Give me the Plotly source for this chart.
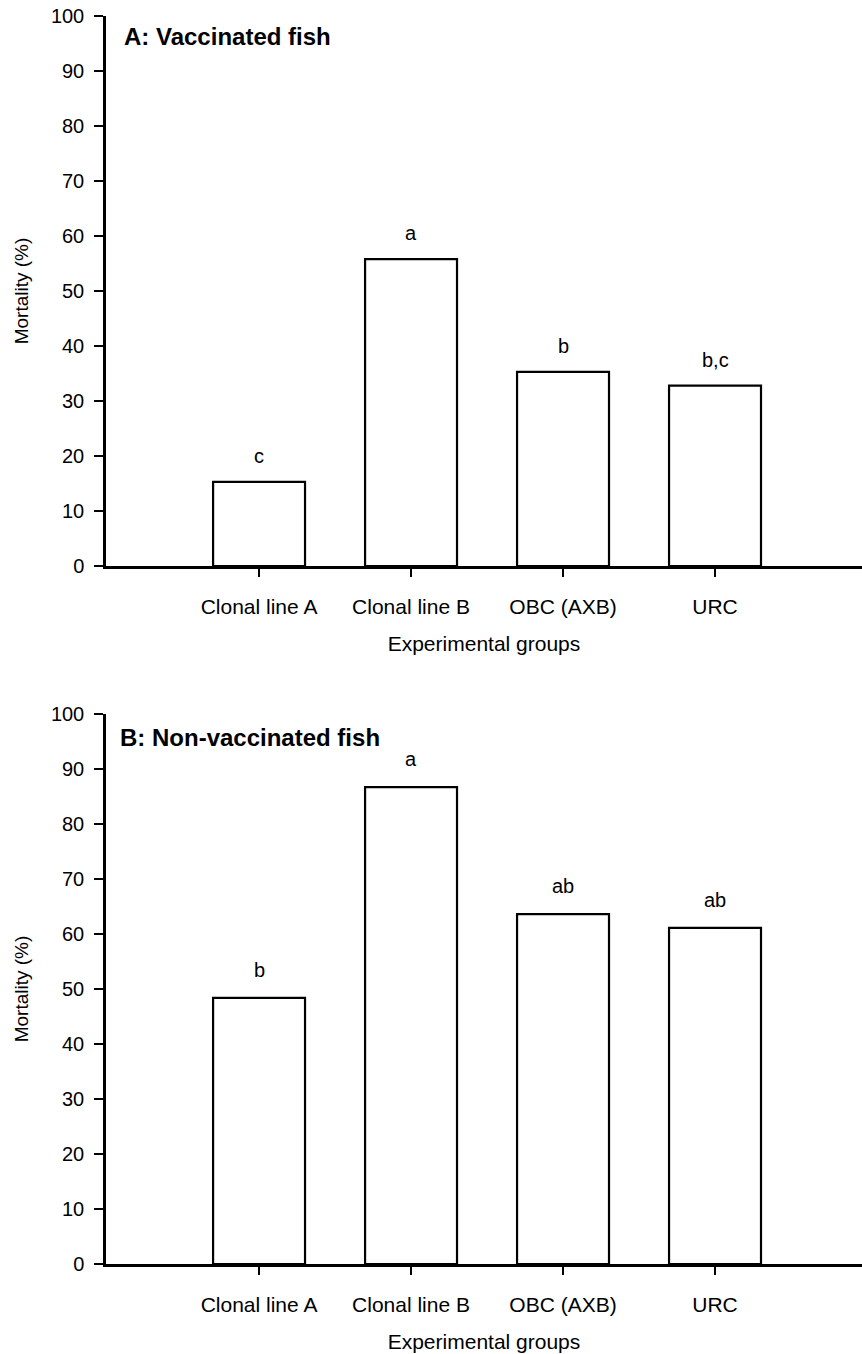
import plotly.graph_objects as go

categories = ["Clonal line A", "Clonal line B", "OBC (AXB)", "URC"]
vaccinated = [15.3, 55.8, 35.3, 32.8]
vaccinated_letters = ["c", "a", "b", "b,c"]
nonvaccinated = [48.4, 86.7, 63.6, 61.1]
nonvaccinated_letters = ["b", "a", "ab", "ab"]
panel_titles = ["A: Vaccinated fish", "B: Non-vaccinated fish"]
y_ticks = [0, 10, 20, 30, 40, 50, 60, 70, 80, 90, 100]

FONT = "Liberation Sans, Arial, Helvetica, sans-serif"

fig = go.Figure()
bar_style = dict(marker=dict(color="white", line=dict(color="black", width=2.2)),
                 width=0.605, showlegend=False, hoverinfo="skip")
fig.add_trace(go.Bar(x=categories, y=vaccinated, xaxis="x", yaxis="y", **bar_style))
fig.add_trace(go.Bar(x=categories, y=nonvaccinated, xaxis="x2", yaxis="y2", **bar_style))

H_TOTAL = 1248
dom_h = 550 / H_TOTAL

axis_common = dict(showline=True, linecolor="black", linewidth=2.5, ticks="outside",
                   tickcolor="black", tickwidth=2, ticklen=9, showgrid=False,
                   zeroline=False, tickfont=dict(family=FONT, size=20, color="black"))

xaxis_common = dict(axis_common, range=[-1.007, 3.967], ticklen=8,
                    tickfont=dict(family=FONT, size=21, color="black"),
                    ticklabelstandoff=12,
                    title=dict(text="Experimental groups", font=dict(family=FONT, size=21, color="black"),
                               standoff=20))
yaxis_common = dict(axis_common, range=[0, 100], tickvals=y_ticks, ticklabelstandoff=6,
                    title=dict(text="Mortality (%)", font=dict(family=FONT, size=19, color="black"),
                               standoff=18))

fig.update_layout(
    xaxis=dict(xaxis_common, anchor="y", domain=[0, 1]),
    yaxis=dict(yaxis_common, anchor="x", domain=[1 - dom_h, 1]),
    xaxis2=dict(xaxis_common, anchor="y2", domain=[0, 1]),
    yaxis2=dict(yaxis_common, anchor="x2", domain=[0, dom_h]),
    width=862, height=1354,
    margin=dict(l=106, r=0, t=16, b=90),
    plot_bgcolor="white", paper_bgcolor="white",
    font=dict(family=FONT, color="black"),
)

for cat, v, lab in zip(categories, vaccinated, vaccinated_letters):
    fig.add_annotation(x=cat, y=v, xref="x", yref="y", text=lab, showarrow=False,
                       yanchor="middle", yshift=26, font=dict(family=FONT, size=20, color="black"))
for cat, v, lab in zip(categories, nonvaccinated, nonvaccinated_letters):
    fig.add_annotation(x=cat, y=v, xref="x2", yref="y2", text=lab, showarrow=False,
                       yanchor="middle", yshift=28, font=dict(family=FONT, size=20, color="black"))

fig.add_annotation(x=0.021, y=0.962, xref="x domain", yref="y domain", text="<b>%s</b>" % panel_titles[0],
                   showarrow=False, xanchor="left", yanchor="middle",
                   font=dict(family=FONT, size=24, color="black"))
fig.add_annotation(x=0.016, y=0.958, xref="x2 domain", yref="y2 domain", text="<b>%s</b>" % panel_titles[1],
                   showarrow=False, xanchor="left", yanchor="middle",
                   font=dict(family=FONT, size=24, color="black"))

fig.write_html("out.html")
